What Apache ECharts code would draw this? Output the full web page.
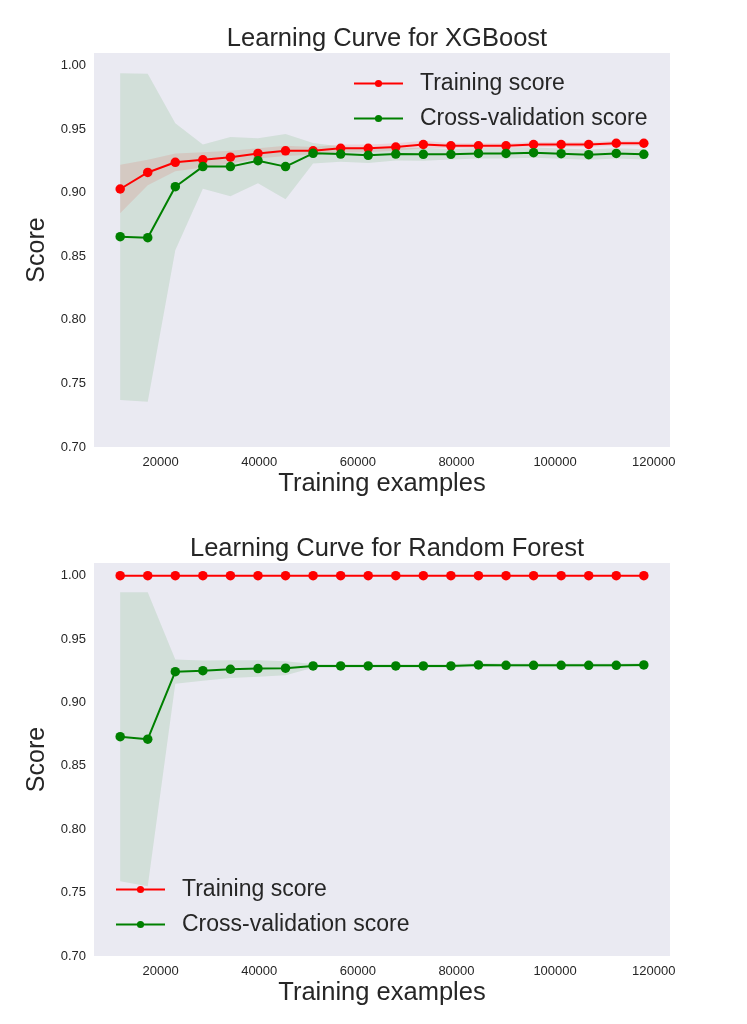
<!DOCTYPE html>
<html>
<head>
<meta charset="utf-8">
<script src="https://cdn.jsdelivr.net/npm/echarts@6/dist/echarts.min.js"></script>
<style>
html,body{margin:0;padding:0;background:#fff;}
#chart{width:747px;height:1024px;}
</style>
</head>
<body>
<div id="chart"></div>
<script>
// ---- data ----
var trainSizes = [11800, 17389, 22979, 28568, 34158, 39747, 45337, 50926, 56516, 62105,
                  67695, 73284, 78874, 84463, 90053, 95642, 101232, 106821, 112411, 118000];
var xTicks = [20000, 40000, 60000, 80000, 100000, 120000];
var yTicks = [0.70, 0.75, 0.80, 0.85, 0.90, 0.95, 1.00];

var xgbTrain    = [0.903, 0.916, 0.924, 0.926, 0.928, 0.931, 0.933, 0.933, 0.935, 0.935,
                   0.936, 0.938, 0.937, 0.937, 0.937, 0.938, 0.938, 0.938, 0.939, 0.939];
var xgbTrainStd = [0.019, 0.010, 0.007, 0.006, 0.005, 0.004, 0.004, 0.003, 0.003, 0.003,
                   0.003, 0.003, 0.002, 0.002, 0.002, 0.002, 0.002, 0.002, 0.002, 0.002];
var xgbCv       = [0.8655, 0.8647, 0.9048, 0.9206, 0.9206, 0.9253, 0.9206, 0.9311, 0.9305, 0.9295,
                   0.9305, 0.9303, 0.9303, 0.9310, 0.9310, 0.9316, 0.9308, 0.9300, 0.9310, 0.9303];
var xgbCvStd    = [0.1285, 0.129, 0.050, 0.0174, 0.0234, 0.0177, 0.0257, 0.008, 0.006, 0.006,
                   0.005, 0.005, 0.004, 0.004, 0.004, 0.004, 0.004, 0.004, 0.004, 0.004];

var rfTrain     = [1.0, 1.0, 1.0, 1.0, 1.0, 1.0, 1.0, 1.0, 1.0, 1.0,
                   1.0, 1.0, 1.0, 1.0, 1.0, 1.0, 1.0, 1.0, 1.0, 1.0];
var rfTrainStd  = [0, 0, 0, 0, 0, 0, 0, 0, 0, 0,
                   0, 0, 0, 0, 0, 0, 0, 0, 0, 0];
var rfCv        = [0.873, 0.871, 0.9243, 0.9251, 0.9262, 0.9267, 0.9270, 0.9288, 0.9288, 0.9288,
                   0.9288, 0.9288, 0.9288, 0.9296, 0.9293, 0.9293, 0.9293, 0.9293, 0.9293, 0.9296];
var rfCvStd     = [0.114, 0.116, 0.0095, 0.008, 0.007, 0.0065, 0.0055, 0.0015, 0.0015, 0.0015,
                   0.0015, 0.0015, 0.0015, 0.0015, 0.0015, 0.0015, 0.0015, 0.0015, 0.0015, 0.0015];

var titles = ['Learning Curve for XGBoost', 'Learning Curve for Random Forest'];
var xName = 'Training examples';
var yName = 'Score';
var trainName = 'Training score';
var cvName = 'Cross-validation score';

// ---- helpers ----
var FONT = '"Liberation Sans", Arial, sans-serif';
var TXT = '#262626';
function pairs(ys) { return ys.map(function (y, i) { return [trainSizes[i], y]; }); }

function bandSeries(idx, mean, std, color) {
  var data = mean.map(function (m, i) { return [trainSizes[i], m - std[i], m + std[i]]; });
  return {
    type: 'custom', xAxisIndex: idx, yAxisIndex: idx, data: data, silent: true, z: 1,
    encode: { x: 0, y: [1, 2] }, clip: true,
    renderItem: function (params, api) {
      if (params.dataIndex !== 0) return null;
      var pts = [];
      for (var i = 0; i < data.length; i++) pts.push(api.coord([data[i][0], data[i][2]]));
      for (var j = data.length - 1; j >= 0; j--) pts.push(api.coord([data[j][0], data[j][1]]));
      return { type: 'polygon', shape: { points: pts }, style: { fill: color } };
    }
  };
}
function lineSeries(idx, name, vals, color, z) {
  return { type: 'line', name: name, xAxisIndex: idx, yAxisIndex: idx, data: pairs(vals),
    symbol: 'circle', symbolSize: 9.5, showAllSymbol: true,
    itemStyle: { color: color }, lineStyle: { color: color, width: 2 }, z: z, animation: false };
}

var grids = [
  { left: 94, right: 77, top: 53, height: 394 },
  { left: 94, right: 77, top: 563, height: 393 }
];

var xAxes = grids.map(function (g, i) {
  return {
    type: 'value', gridIndex: i, min: 6490, max: 123310,
    name: xName, nameLocation: 'middle', nameGap: 24,
    nameTextStyle: { fontFamily: FONT, fontSize: 25.5, color: TXT },
    axisLine: { show: false }, axisTick: { show: false }, splitLine: { show: false },
    axisLabel: { customValues: xTicks, margin: 9, fontFamily: FONT, fontSize: 13, color: TXT,
      formatter: function (v) { return String(v); } }
  };
});
var yAxes = grids.map(function (g, i) {
  return {
    type: 'value', gridIndex: i, min: 0.70, max: 1.01,
    name: yName, nameLocation: 'middle', nameGap: 40, nameRotate: 90,
    nameTextStyle: { fontFamily: FONT, fontSize: 25, color: TXT },
    axisLine: { show: false }, axisTick: { show: false }, splitLine: { show: false },
    axisLabel: { customValues: yTicks, margin: 8, fontFamily: FONT, fontSize: 13, color: TXT,
      formatter: function (v) { return v.toFixed(2); } }
  };
});

var series = [
  bandSeries(0, xgbTrain, xgbTrainStd, 'rgba(255,0,0,0.1)'),
  bandSeries(0, xgbCv, xgbCvStd, 'rgba(0,128,0,0.1)'),
  lineSeries(0, trainName, xgbTrain, '#ff0000', 3),
  lineSeries(0, cvName, xgbCv, '#008000', 4),
  bandSeries(1, rfTrain, rfTrainStd, 'rgba(255,0,0,0.1)'),
  bandSeries(1, rfCv, rfCvStd, 'rgba(0,128,0,0.1)'),
  lineSeries(1, trainName, rfTrain, '#ff0000', 3),
  lineSeries(1, cvName, rfCv, '#008000', 4)
];

var legendCommon = {
  orient: 'vertical', data: [trainName, cvName], itemWidth: 49, itemHeight: 9, itemGap: 12,
  textStyle: { fontFamily: FONT, fontSize: 23, color: TXT, lineHeight: 22, padding: [0, 0, 0, 12] },
  padding: 0, selectedMode: false
};

var option = {
  animation: false,
  backgroundColor: '#ffffff',
  title: [
    { text: titles[0], left: 382, top: 21, textAlign: 'center',
      textStyle: { fontFamily: FONT, fontSize: 25.5, fontWeight: 'normal', color: TXT } },
    { text: titles[1], left: 382, top: 531, textAlign: 'center',
      textStyle: { fontFamily: FONT, fontSize: 25.5, fontWeight: 'normal', color: TXT } }
  ],
  grid: grids.map(function (g) {
    return Object.assign({ show: true, backgroundColor: '#eaeaf2', borderWidth: 0, containLabel: false }, g);
  }),
  legend: [
    Object.assign({ left: 353, top: 72 }, legendCommon),
    Object.assign({ left: 115, top: 878 }, legendCommon)
  ],
  xAxis: xAxes,
  yAxis: yAxes,
  series: series
};

var chart = echarts.init(document.getElementById('chart'), null, { renderer: 'canvas' });
chart.setOption(option);
</script>
</body>
</html>
